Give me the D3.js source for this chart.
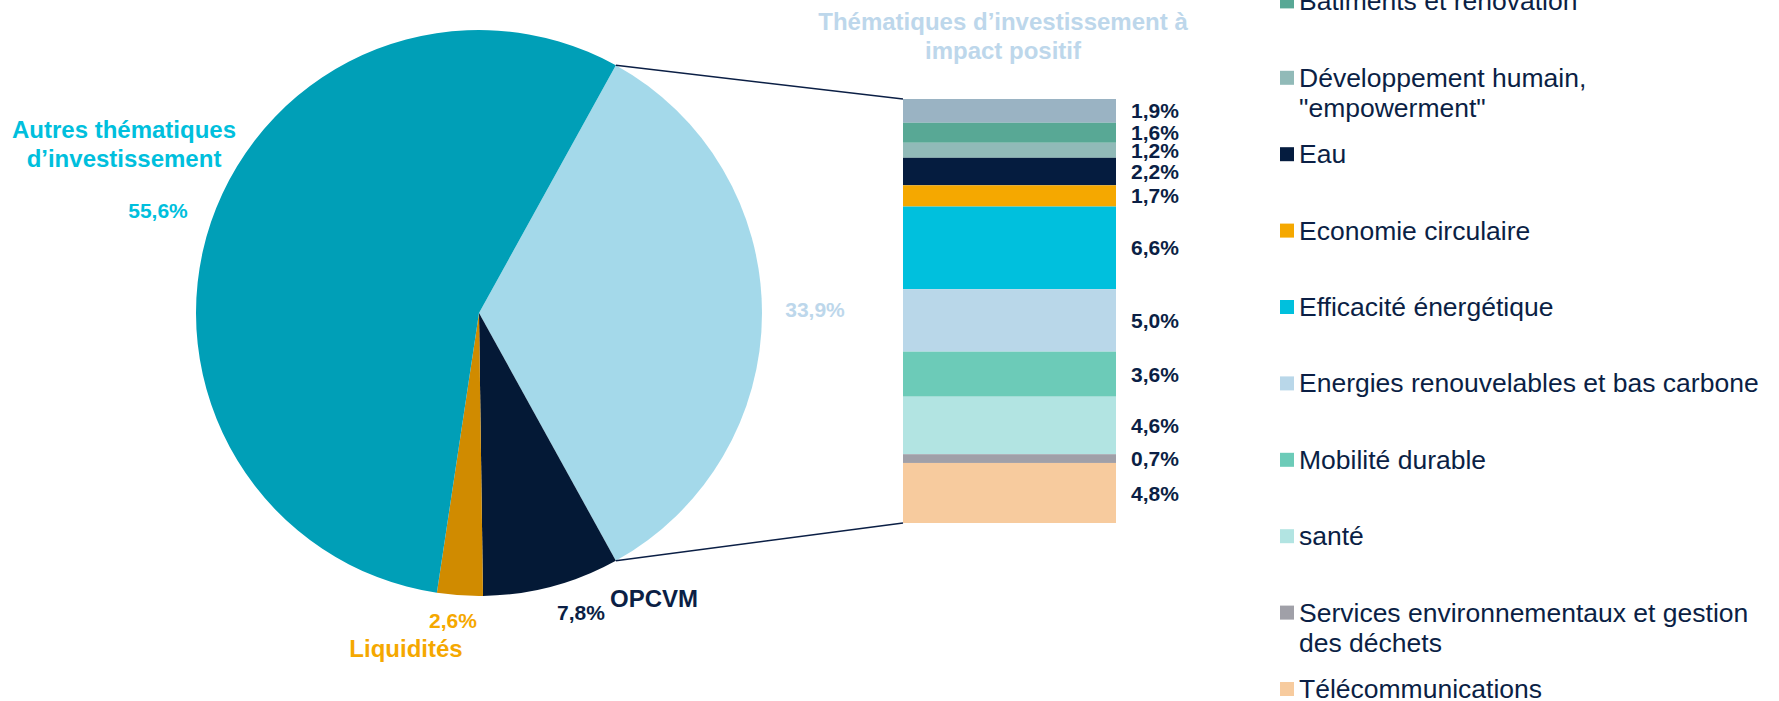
<!DOCTYPE html>
<html>
<head>
<meta charset="utf-8">
<script src="https://cdn.jsdelivr.net/npm/d3@7"></script>
<style>
  body { margin: 0; background: #fff; }
  svg { display: block; font-family: "Liberation Sans", Arial, sans-serif; }
</style>
</head>
<body>
<svg></svg>
<script>
// pie : parts of the portfolio
const pieNames = ["Impact", "OPCVM", "Liquidités", "Autres"]
const pieValues = [33.9, 7.8, 2.6, 55.6]
const pieLabels = ["33,9%", "7,8%", "2,6%", "55,6%"]

// bar : impact themes, top to bottom
const themes = [
  "Agriculture et alimentation durables",
  "Bâtiments et rénovation",
  "Développement humain, \"empowerment\"",
  "Eau",
  "Economie circulaire",
  "Efficacité énergétique",
  "Energies renouvelables et bas carbone",
  "Mobilité durable",
  "santé",
  "Services environnementaux et gestion des déchets",
  "Télécommunications"
]
const themeValues = [1.9, 1.6, 1.2, 2.2, 1.7, 6.6, 5.0, 3.6, 4.6, 0.7, 4.8]
const themeLabels = ["1,9%", "1,6%", "1,2%", "2,2%", "1,7%", "6,6%", "5,0%", "3,6%", "4,6%", "0,7%", "4,8%"]

// how legend texts are wrapped
const legendLines = {
  "Développement humain, \"empowerment\"": ["Développement humain,", "\"empowerment\""],
  "Services environnementaux et gestion des déchets": ["Services environnementaux et gestion", "des déchets"]
}

const pieColor = d3.scaleOrdinal(pieNames, ["#a4d9ea", "#041936", "#d08b00", "#009fb7"])
const themeColor = d3.scaleOrdinal(themes, ["#9ab3c3", "#58a895", "#91bab8", "#051c3f", "#f5a800",
  "#00c0dd", "#b9d7e9", "#6ccbb8", "#b2e4e2", "#a0a0a8", "#f7cb9e"])

const navy = "#0b1f45"
const width = 1779, height = 701
const cx = 479, cy = 313, r = 283

const svg = d3.select("svg")
  .attr("width", width)
  .attr("height", height)
  .attr("viewBox", [0, 0, width, height])

// turn the pie so the impact slice faces the bar
const total = d3.sum(pieValues)
const start = Math.PI / 2 - Math.PI * pieValues[0] / total

const pie = d3.pie().sort(null).startAngle(start).endAngle(start + 2 * Math.PI)
const arcs = pie(pieValues)
const arc = d3.arc().innerRadius(0).outerRadius(r)

const pieG = svg.append("g").attr("transform", `translate(${cx},${cy})`)

pieG.selectAll("path")
  .data(arcs)
  .join("path")
    .attr("d", arc)
    .attr("fill", (d, i) => pieColor(pieNames[i]))

// stacked bar
const barX = d3.scaleBand().domain(["impact"]).range([903, 1116]).padding(0)
const barY = d3.scaleLinear().domain([0, d3.sum(themeValues)]).range([99, 523])
const cum = d3.cumsum(themeValues)
const segs = themes.map((t, i) => ({ name: t, y0: cum[i] - themeValues[i], y1: cum[i], label: themeLabels[i] }))

// connector lines from the slice edges to the bar corners
const a0 = arcs[0].startAngle, a1 = arcs[0].endAngle
const lines = [
  [cx + r * Math.sin(a0), cy - r * Math.cos(a0), barX("impact"), barY(0)],
  [cx + r * Math.sin(a1), cy - r * Math.cos(a1), barX("impact"), barY(d3.sum(themeValues))]
]
svg.append("g")
    .attr("stroke", navy)
    .attr("stroke-width", 1.6)
  .selectAll("line")
  .data(lines)
  .join("line")
    .attr("x1", d => d[0])
    .attr("y1", d => d[1])
    .attr("x2", d => d[2])
    .attr("y2", d => d[3])

svg.append("g")
  .selectAll("rect")
  .data(segs)
  .join("rect")
    .attr("x", barX("impact"))
    .attr("width", barX.bandwidth())
    .attr("y", d => barY(d.y0))
    .attr("height", d => barY(d.y1) - barY(d.y0))
    .attr("fill", d => themeColor(d.name))

svg.append("g")
    .attr("font-size", 21)
    .attr("font-weight", "bold")
    .attr("fill", navy)
  .selectAll("text")
  .data(segs)
  .join("text")
    .attr("x", barX("impact") + barX.bandwidth() + 15)
    .attr("y", d => (barY(d.y0) + barY(d.y1)) / 2)
    .attr("dy", "0.36em")
    .text(d => d.label)

// bar title
svg.append("text")
    .attr("text-anchor", "middle")
    .attr("font-size", 24)
    .attr("font-weight", "bold")
    .attr("fill", "#bdd7eb")
  .selectAll("tspan")
  .data(["Thématiques d’investissement à", "impact positif"])
  .join("tspan")
    .attr("x", 1003)
    .attr("y", (d, i) => 30 + i * 28.5)
    .text(d => d)

// pie labels, placed from the centre of the pie
const pieText = [
  { text: pieLabels[3], dx: -321, dy: -95, size: 21, color: "#00bfdd" },
  { text: "Autres thématiques", dx: -355, dy: -175, size: 24, color: "#00bfdd" },
  { text: "d’investissement", dx: -355, dy: -146, size: 24, color: "#00bfdd" },
  { text: pieLabels[0], dx: 336, dy: 4, size: 21, color: "#bdd7eb" },
  { text: pieLabels[2], dx: -26, dy: 315, size: 21, color: "#f5a800" },
  { text: "Liquidités", dx: -73, dy: 344, size: 24, color: "#f5a800" },
  { text: pieLabels[1], dx: 102, dy: 307, size: 21, color: navy },
  { text: "OPCVM", dx: 175, dy: 294, size: 24, color: navy }
]
pieG.append("g")
    .attr("font-weight", "bold")
    .attr("text-anchor", "middle")
  .selectAll("text")
  .data(pieText)
  .join("text")
    .attr("x", d => d.dx)
    .attr("y", d => d.dy)
    .attr("font-size", d => d.size)
    .attr("fill", d => d.color)
    .text(d => d.text)

// legend
const legendY = d3.scalePoint().domain(themes).range([-66, 698])

const item = svg.append("g")
  .selectAll("g")
  .data(themes)
  .join("g")
    .attr("transform", d => `translate(1280,${legendY(d)})`)

item.append("rect")
  .attr("y", -16)
  .attr("width", 14)
  .attr("height", 14)
  .attr("fill", d => themeColor(d))

item.append("text")
    .attr("font-size", 26.5)
    .attr("fill", navy)
  .selectAll("tspan")
  .data(d => legendLines[d] || [d])
  .join("tspan")
    .attr("x", 19)
    .attr("y", (d, i) => i * 30)
    .text(d => d)
</script>
</body>
</html>
